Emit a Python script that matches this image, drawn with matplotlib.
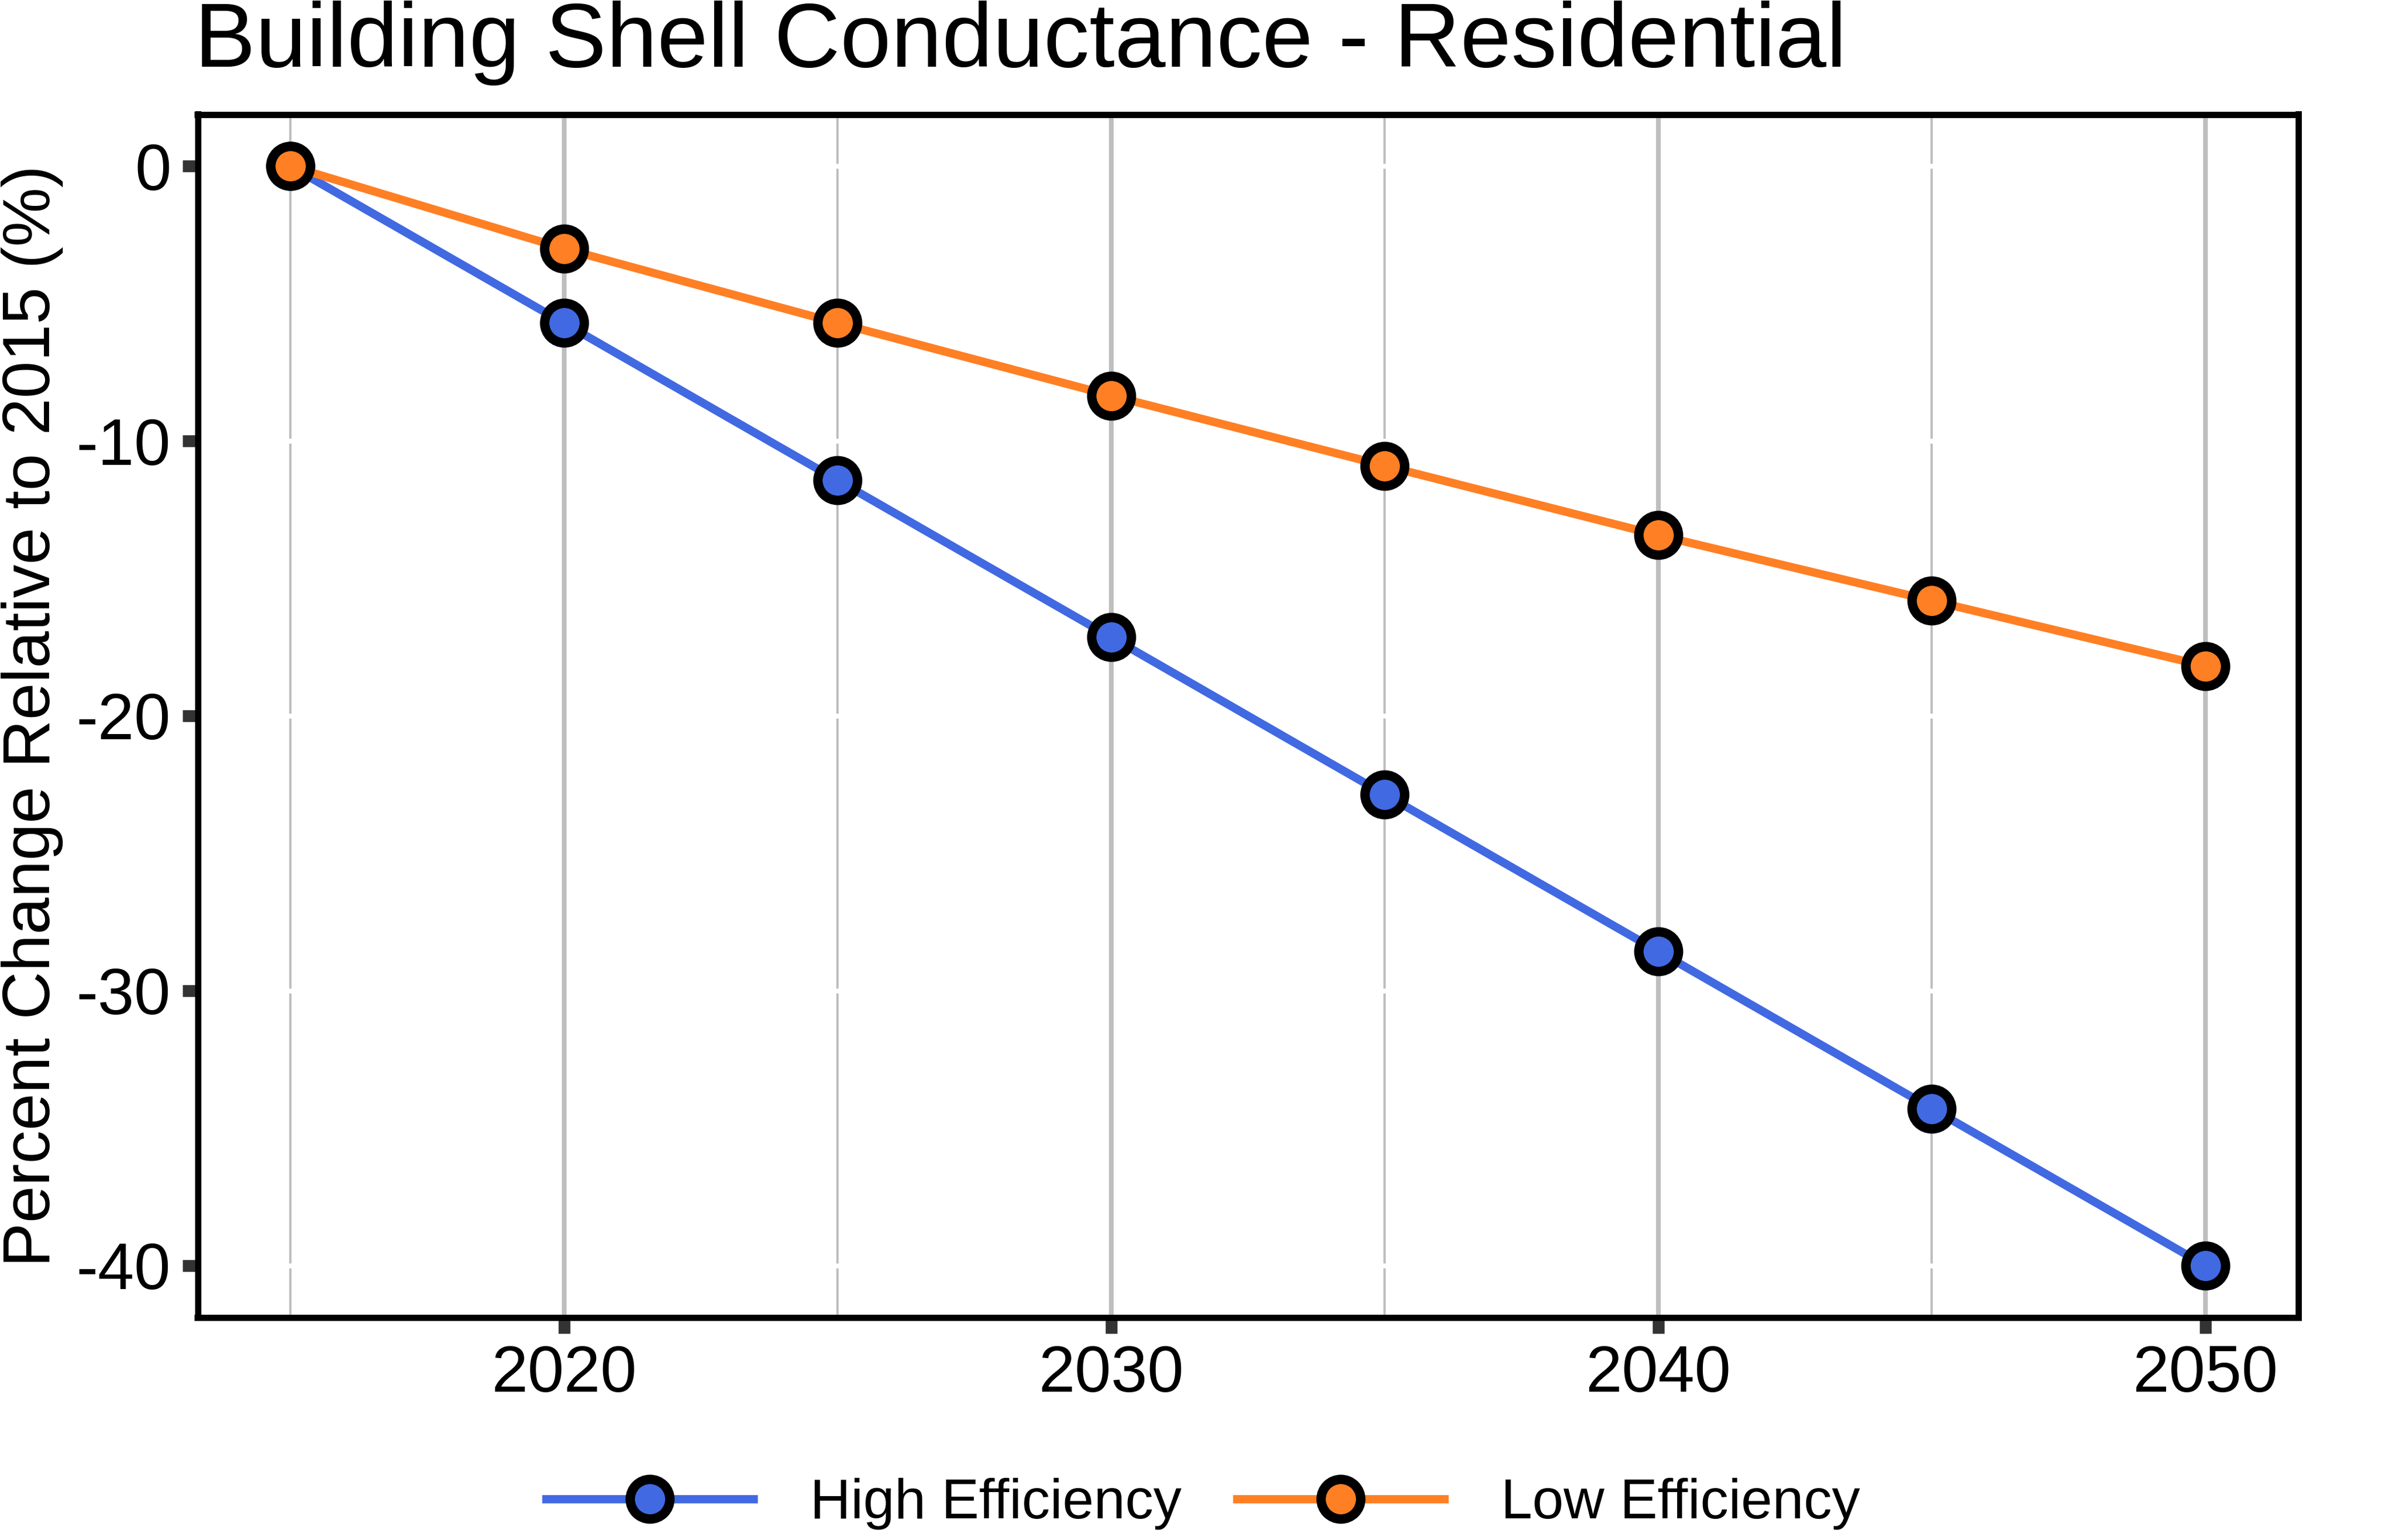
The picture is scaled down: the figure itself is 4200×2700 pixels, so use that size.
import matplotlib
matplotlib.use("Agg")
import matplotlib.pyplot as plt
import numpy as np

plt.rcParams['font.family'] = ['Liberation Sans', 'DejaVu Sans']
plt.rcParams['axes.unicode_minus'] = False

# ---- data ----
years = [2015, 2020, 2025, 2030, 2035, 2040, 2045, 2050]
high_eff = [0.0, -5.71, -11.43, -17.14, -22.86, -28.57, -34.29, -40.0]
low_eff = [0.0, -3.0, -5.71, -8.35, -10.90, -13.43, -15.81, -18.19]
series_names = ["High Efficiency", "Low Efficiency"]
x_ticks = [2020, 2030, 2040, 2050]
y_ticks = [0, -10, -20, -30, -40]
title = "Building Shell Conductance - Residential"
ylabel = "Percent Change Relative to 2015 (%)"

# ---- styling ----
W, H = 4200, 2700
DPI = 300
PX = 72.0 / DPI  # points per pixel
colors = ["#4169E1", "#FF7F24"]
grid_gray = "#BEBEBE"

fig = plt.figure(figsize=(W / DPI, H / DPI), dpi=DPI)
fig.patch.set_facecolor("white")

left, right, top, bottom = 346.5, 4028.5, 200.5, 2309.5
ax = fig.add_axes([left / W, 1 - bottom / H, (right - left) / W, (bottom - top) / H])
ax.set_facecolor("white")

# series
handles = []
for i, (vals, name) in enumerate(zip([high_eff, low_eff], series_names)):
    ln, = ax.plot(years, vals, color=colors[i], lw=14.5 * PX, marker="o",
                  markersize=69.5 * PX, markeredgewidth=16.5 * PX,
                  markerfacecolor=colors[i], markeredgecolor="black",
                  label=name, zorder=3 + i, solid_capstyle="butt")
    handles.append(ln)

ax.margins(x=0.0484, y=0.0471)
ax.set_xticks(x_ticks)
ax.set_yticks(y_ticks)
ax.xaxis.set_minor_locator(matplotlib.ticker.NullLocator())
ax.yaxis.set_minor_locator(matplotlib.ticker.NullLocator())

# grid: minor x (gray thin), major y (white), major x (gray)
for yr in years:
    if yr not in x_ticks:
        ax.axvline(yr, color=grid_gray, lw=4 * PX, zorder=0.5)
for yv in y_ticks:
    ax.axhline(yv, color="white", lw=8.5 * PX, zorder=0.6)
for xv in x_ticks:
    ax.axvline(xv, color=grid_gray, lw=8.3 * PX, zorder=0.7)

for s in ax.spines.values():
    s.set_linewidth(11 * PX)
    s.set_color("black")
    s.set_zorder(5)

ax.tick_params(axis="both", which="major", direction="out", length=27.5 * PX,
               width=20.7 * PX, color="#333333", labelsize=27.5, labelcolor="black")
ax.tick_params(axis="y", pad=4.6)
ax.tick_params(axis="x", pad=4.8)

ax.set_ylabel(ylabel, fontsize=28)
ax.yaxis.label.set_verticalalignment("baseline")
ax.yaxis.set_label_coords((87 - left) / (right - left), 0.5)

fig.text(341 / W, 1 - 116.7 / H, title, fontsize=38.5, ha="left", va="baseline")

fig.legend(handles=handles, labels=series_names, loc="center",
           bbox_to_anchor=(2105 / W, 1 - 2637 / H), ncol=2, frameon=False,
           fontsize=23.7, handlelength=3.83, handletextpad=0.93,
           columnspacing=0.91, borderpad=0, numpoints=1)

fig.savefig("out.png", dpi=DPI, facecolor="white")
